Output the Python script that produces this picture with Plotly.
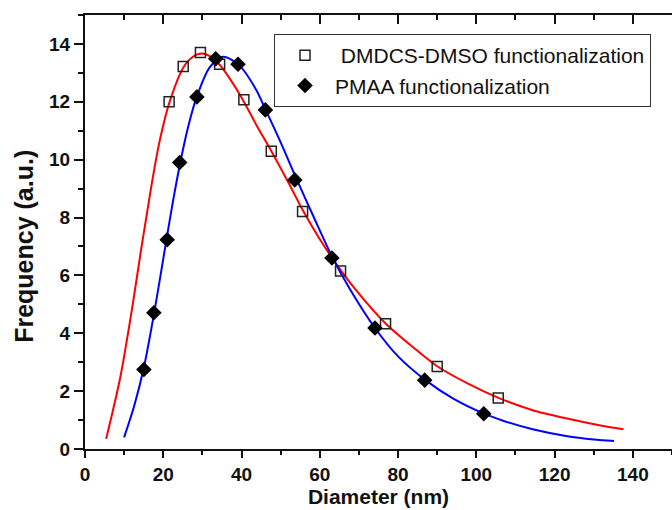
import plotly.graph_objects as go

# Measured data points
sq_x = [21.5, 25.1, 29.5, 34.4, 40.6, 47.6, 55.6, 65.3, 76.8, 90.0, 105.6]
sq_y = [12.0, 13.22, 13.70, 13.30, 12.07, 10.29, 8.21, 6.15, 4.33, 2.85, 1.76]

di_x = [15.05, 17.6, 21.0, 24.2, 28.6, 33.4, 39.1, 46.1, 53.6, 63.1, 74.1, 86.8, 101.9]
di_y = [2.75, 4.71, 7.23, 9.90, 12.17, 13.49, 13.30, 11.72, 9.30, 6.60, 4.18, 2.38, 1.22]

# Fitted curves
red_x = [5.4, 7.0, 8.9, 10.0, 12.2, 14.3, 15.6, 17.2, 19.1, 21.7, 25.1, 27.5, 29.8, 32.0,
         34.4, 37.0, 40.0, 44.0, 47.6, 52.0, 55.7, 60.0, 64.2, 68.9, 77.0, 84.0, 90.0,
         98.0, 105.8, 114.4, 122.9, 131.4, 137.6]
red_y = [0.35, 1.25, 2.4, 3.2, 5.0, 6.86, 7.95, 9.28, 10.66, 12.03, 13.18, 13.55, 13.67, 13.57,
         13.28, 12.8, 12.15, 11.15, 10.3, 9.2, 8.24, 7.25, 6.4, 5.55, 4.31, 3.5, 2.86,
         2.25, 1.76, 1.34, 1.06, 0.82, 0.68]

blue_x = [10.0, 12.6, 15.1, 17.7, 20.4, 22.4, 24.2, 26.3, 28.5, 31.9, 35.3, 39.5, 43.8, 45.9,
          50.0, 54.0, 58.5, 63.3, 67.6, 74.0, 80.0, 87.0, 94.0, 101.8, 107.0, 114.4, 122.9,
          130.0, 135.2]
blue_y = [0.4, 1.5, 2.85, 4.72, 6.9, 8.5, 9.8, 11.1, 12.15, 13.2, 13.56, 13.25, 12.4, 11.8,
          10.6, 9.35, 8.0, 6.6, 5.55, 4.2, 3.2, 2.38, 1.75, 1.23, 0.97, 0.68, 0.45,
          0.33, 0.28]

x_title = "Diameter (nm)"
y_title = "Frequency (a.u.)"
name_sq = " DMDCS-DMSO functionalization"
name_di = "PMAA functionalization"

FONT = "Liberation Sans, Arial, sans-serif"
INK = "#111111"

fig = go.Figure()
fig.add_trace(go.Scatter(x=red_x, y=red_y, mode="lines",
                         line=dict(color="#ff0000", width=2, shape="spline", smoothing=0.8),
                         showlegend=False, hoverinfo="skip"))
fig.add_trace(go.Scatter(x=blue_x, y=blue_y, mode="lines",
                         line=dict(color="#0000ff", width=2, shape="spline", smoothing=0.8),
                         showlegend=False, hoverinfo="skip"))
fig.add_trace(go.Scatter(x=sq_x, y=sq_y, mode="markers", name=name_sq,
                         marker=dict(symbol="square-open", size=10, color="#222222", line=dict(width=1.5))))
fig.add_trace(go.Scatter(x=di_x, y=di_y, mode="markers", name=name_di,
                         marker=dict(symbol="diamond", size=12, color="#000000")))
# invisible trace so the top axis is drawn
fig.add_trace(go.Scatter(x=[0], y=[0], xaxis="x2", mode="markers", marker=dict(opacity=0),
                         showlegend=False, hoverinfo="skip"))

axis_common = dict(showline=True, linewidth=2, linecolor=INK, showgrid=False, zeroline=False,
                   tickwidth=2, tickcolor=INK)

fig.update_layout(
    width=672, height=510,
    margin=dict(l=85, r=0, t=15, b=61),
    paper_bgcolor="white", plot_bgcolor="white",
    font=dict(family=FONT, color=INK),
    xaxis=dict(range=[0, 150], dtick=20, ticks="outside", ticklen=7,
               minor=dict(ticks="outside", ticklen=4, dtick=10, tickwidth=2, tickcolor=INK),
               tickfont=dict(size=19, weight="bold", family=FONT),
               title=dict(text=x_title, font=dict(size=21, weight="bold", family=FONT), standoff=4),
               **axis_common),
    xaxis2=dict(range=[0, 150], overlaying="x", side="top", dtick=20, ticks="inside", ticklen=9,
                minor=dict(ticks="inside", ticklen=5, dtick=10, tickwidth=2, tickcolor=INK),
                showticklabels=False, **axis_common),
    yaxis=dict(range=[0, 15], tickvals=[0, 2, 4, 6, 8, 10, 12, 14], ticks="outside", ticklen=9,
               minor=dict(ticks="outside", ticklen=5, dtick=1, tickwidth=2, tickcolor=INK),
               tickfont=dict(size=19, weight="bold", family=FONT),
               **axis_common),
    annotations=[dict(text=y_title, textangle=-90, xref="paper", yref="paper",
                      x=-0.104, y=0.468, xanchor="center", yanchor="middle", showarrow=False,
                      font=dict(size=25, weight="bold", family=FONT, color=INK))],
    legend=dict(x=0.322, y=0.956, xanchor="left", yanchor="top",
                bordercolor="#333333", borderwidth=1, bgcolor="white",
                font=dict(size=21, family=FONT, color=INK), itemwidth=50,
                tracegroupgap=0),
    showlegend=True,
)

fig.write_html("out.html")
